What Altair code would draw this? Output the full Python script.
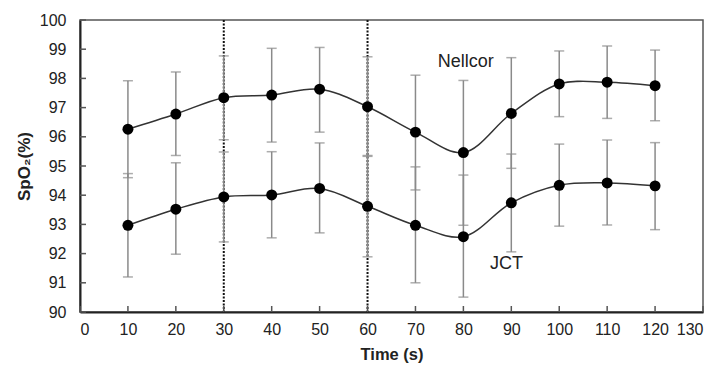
import altair as alt
import pandas as pd

time = [10, 20, 30, 40, 50, 60, 70, 80, 90, 100, 110, 120]

nellcor_mean = [96.26, 96.78, 97.34, 97.43, 97.63, 97.03, 96.16, 95.46, 96.80, 97.81, 97.87, 97.75]
nellcor_hi = [97.92, 98.22, 98.77, 99.03, 99.06, 98.74, 98.11, 97.93, 98.71, 98.94, 99.11, 98.97]
nellcor_lo = [94.60, 95.36, 95.90, 95.82, 96.16, 95.33, 94.18, 92.97, 94.92, 96.69, 96.63, 96.55]

jct_mean = [92.97, 93.52, 93.94, 94.01, 94.23, 93.62, 92.97, 92.58, 93.74, 94.34, 94.42, 94.32]
jct_hi = [94.74, 95.11, 95.48, 95.49, 95.79, 95.36, 94.97, 94.69, 95.41, 95.75, 95.89, 95.80]
jct_lo = [91.20, 91.98, 92.40, 92.54, 92.71, 91.89, 91.00, 90.51, 92.06, 92.94, 92.98, 92.82]

series_names = ["Nellcor", "JCT"]
label_x = [80.5, 89.0]
label_y = [98.55, 91.65]

vlines = [30, 60]
x_ticks = list(range(0, 131, 10))
y_ticks = list(range(90, 101, 1))

rows = []
for name, m, lo, hi in [("Nellcor", nellcor_mean, nellcor_lo, nellcor_hi),
                        ("JCT", jct_mean, jct_lo, jct_hi)]:
    for t, a, b, c in zip(time, m, lo, hi):
        rows.append({"series": name, "time": t, "mean": a, "lo": b, "hi": c})
df = pd.DataFrame(rows)
labels_df = pd.DataFrame({"text": series_names, "x": label_x, "y": label_y})
vl_df = pd.DataFrame({"x": vlines})
xt_df = pd.DataFrame({"x": x_ticks})
yt_df = pd.DataFrame({"y": y_ticks})

FONT = "Liberation Sans"
W, H = 623, 292

xscale = alt.Scale(domain=[0, 130], nice=False, zero=False)
yscale = alt.Scale(domain=[90, 100], nice=False, zero=False)

xaxis = alt.Axis(values=x_ticks, title="Time (s)", ticks=False, labelPadding=9,
                 labelFontSize=16, labelFont=FONT, labelColor="#222", labelOverlap=False,
                 titleFont=FONT, titleFontSize=16.5, titleFontWeight="bold",
                 titleColor="#222", titlePadding=9, domainColor="#222",
                 domainWidth=2, grid=False)
yaxis = alt.Axis(values=y_ticks, title="SpO₂(%)", ticks=False, labelPadding=14,
                 labelFontSize=16, labelFont=FONT, labelColor="#222", labelOverlap=False,
                 titleFont=FONT, titleFontSize=17, titleFontWeight="bold",
                 titleColor="#222", titlePadding=6, domainColor="#222",
                 domainWidth=2, grid=False)


def X(field):
    return alt.X(field, scale=xscale, axis=xaxis)


def Y(field):
    return alt.Y(field, scale=yscale, axis=yaxis)


base = alt.Chart(df)

dotted = alt.Chart(vl_df).mark_rule(color="#111", strokeDash=[2, 1.5], strokeWidth=2).encode(
    x=X("x:Q")
)

xt = alt.Chart(xt_df).mark_rule(color="#555", strokeWidth=1.5).encode(
    x=X("x:Q"), y=alt.value(H - 6), y2=alt.value(H)
)
yt = alt.Chart(yt_df).mark_rule(color="#555", strokeWidth=1.5).encode(
    y=Y("y:Q"), x=alt.value(0), x2=alt.value(6)
)

err = base.mark_rule(color="#8a8a8a", strokeWidth=1.5).encode(
    x=X("time:Q"), y=Y("lo:Q"), y2="hi:Q",
)
cap_lo = base.mark_tick(orient="horizontal", color="#8a8a8a", size=10, thickness=1.5).encode(
    x=X("time:Q"), y=Y("lo:Q")
)
cap_hi = base.mark_tick(orient="horizontal", color="#8a8a8a", size=10, thickness=1.5).encode(
    x=X("time:Q"), y=Y("hi:Q")
)

lines = base.mark_line(interpolate="catmull-rom", color="#333", strokeWidth=1.5).encode(
    x=X("time:Q"), y=Y("mean:Q"), detail="series:N",
)
points = base.mark_circle(size=120, color="#000", opacity=1).encode(
    x=X("time:Q"), y=Y("mean:Q"),
)

texts = alt.Chart(labels_df).mark_text(font=FONT, fontSize=18, color="#222",
                                       align="center", baseline="middle").encode(
    x=X("x:Q"), y=Y("y:Q"), text="text:N"
)

chart = alt.layer(dotted, xt, yt, err, cap_lo, cap_hi, lines, points, texts).properties(
    width=W, height=H,
    autosize=alt.AutoSizeParams(type="none"),
    padding={"left": 72, "top": 12, "right": 8, "bottom": 57},
    background="white",
).configure_view(stroke="#555", strokeWidth=1.5)

chart.save("out.html", embed_options={"renderer": "svg", "actions": False})
